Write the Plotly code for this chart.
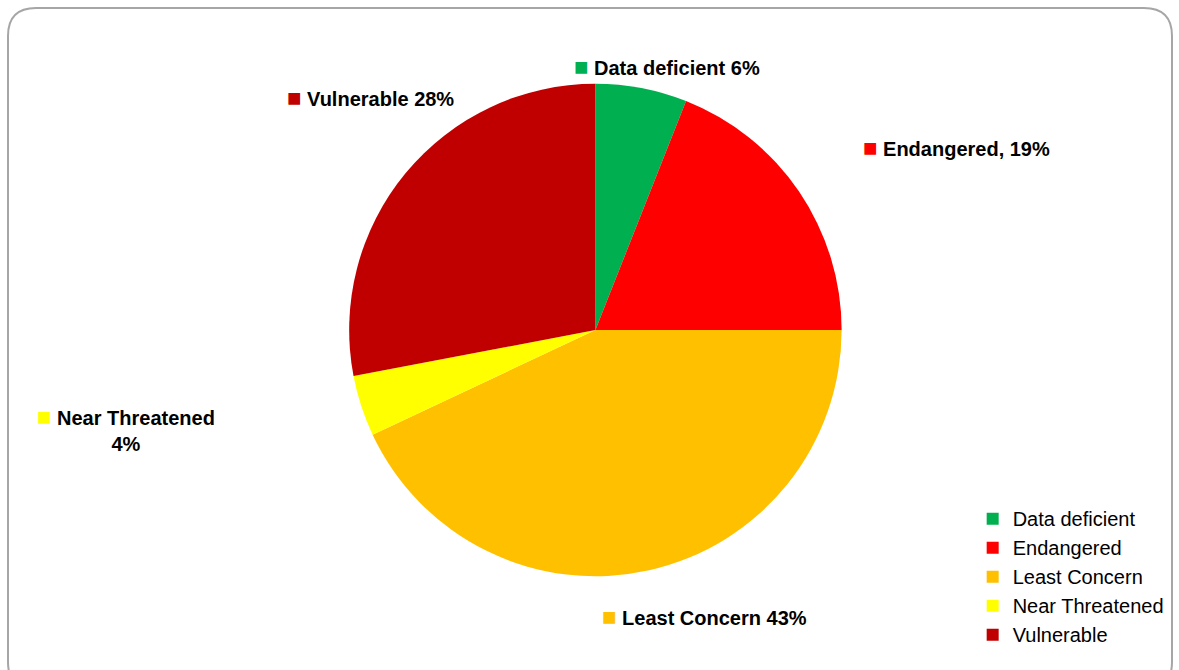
import plotly.graph_objects as go

categories = ["Data deficient", "Endangered", "Least Concern", "Near Threatened", "Vulnerable"]
values = [6, 19, 43, 4, 28]
colors = ["#00B050", "#FF0000", "#FFC000", "#FFFF00", "#C00000"]
label_texts = ["Data deficient 6%", "Endangered, 19%", "Least Concern 43%",
               "Near Threatened<br>4%", "Vulnerable 28%"]

FONT = "Liberation Sans Narrow, Arial Narrow, Liberation Sans, Arial, sans-serif"
W, H = 1179, 670

fig = go.Figure()
fig.add_trace(go.Pie(
    labels=categories,
    values=values,
    sort=False,
    direction="clockwise",
    rotation=0,
    marker=dict(colors=colors, line=dict(width=0)),
    textinfo="none",
    hoverinfo="label+percent",
    domain=dict(x=[0.195, 0.815], y=[0.14, 0.875]),
    showlegend=True,
))

# label positions (paper coords)
label_pos = [(0.485, 0.90), (0.730, 0.78), (0.509, 0.08), (0.03, 0.36), (0.242, 0.855)]
for txt, col, (x, y) in zip(label_texts, colors, label_pos):
    parts = txt.split("<br>")
    sq = f"<span style='color:{col};font-size:24px'>■</span>"
    if len(parts) > 1:
        t = f"{sq} {parts[0]}<br>{parts[1]}"
    else:
        t = f"{sq} {txt}"
    fig.add_annotation(
        x=x, y=y, xref="paper", yref="paper", xanchor="left", yanchor="middle",
        text=f"<b>{t}</b>", showarrow=False, align="center",
        font=dict(family=FONT, size=20, color="#000000"),
    )

# rounded chart-area border
x0, y0, x1, y1, r = 8, 8, 1172, 690, 28
def px(x):
    return x / W
def py(y):
    return 1 - y / H
path = (f"M {px(x0)} {py(y0 + r)} Q {px(x0)} {py(y0)} {px(x0 + r)} {py(y0)} "
        f"L {px(x1 - r)} {py(y0)} Q {px(x1)} {py(y0)} {px(x1)} {py(y0 + r)} "
        f"L {px(x1)} {py(y1 - r)} Q {px(x1)} {py(y1)} {px(x1 - r)} {py(y1)} "
        f"L {px(x0 + r)} {py(y1)} Q {px(x0)} {py(y1)} {px(x0)} {py(y1 - r)} Z")
fig.add_shape(type="path", xref="paper", yref="paper", layer="below", path=path,
              line=dict(color="#A6A6A6", width=2), fillcolor="rgba(0,0,0,0)")

fig.update_layout(
    width=W, height=H,
    margin=dict(l=0, r=0, t=0, b=0),
    paper_bgcolor="#FFFFFF",
    plot_bgcolor="#FFFFFF",
    font=dict(family=FONT, size=20, color="#000000"),
    legend=dict(x=0.825, y=0.255, xanchor="left", yanchor="top",
                font=dict(family=FONT, size=20, color="#000000"),
                bgcolor="rgba(0,0,0,0)", itemwidth=30, traceorder="normal"),
)

fig.write_html("out.html")
